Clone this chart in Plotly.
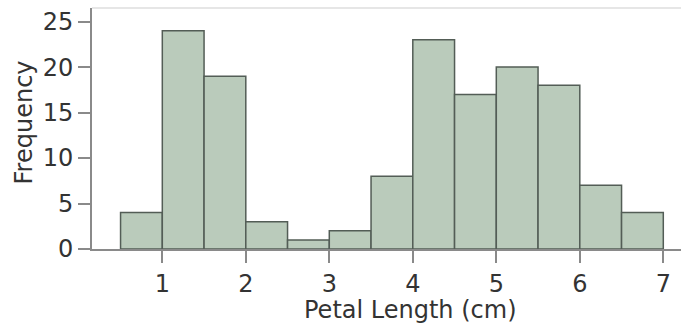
import plotly.graph_objects as go

# Data: histogram of petal length (bins of 0.5 cm)
bin_edges = [0.5, 1.0, 1.5, 2.0, 2.5, 3.0, 3.5, 4.0, 4.5, 5.0, 5.5, 6.0, 6.5, 7.0]
counts = [4, 24, 19, 3, 1, 2, 8, 23, 17, 20, 18, 7, 4]
x_ticks = [1, 2, 3, 4, 5, 6, 7]
y_ticks = [0, 5, 10, 15, 20, 25]
x_title = "Petal Length (cm)"
y_title = "Frequency"

centers = [(a + b) / 2 for a, b in zip(bin_edges[:-1], bin_edges[1:])]
widths = [b - a for a, b in zip(bin_edges[:-1], bin_edges[1:])]

FONT = "DejaVu Sans"
FS = 24
TXT = "#333333"
AX = "#8a8a8a"

fig = go.Figure()
fig.add_trace(go.Bar(
    x=centers, y=counts, width=widths,
    marker=dict(color="#bacbbb", line=dict(color="#535d56", width=1.5)),
    hoverinfo="skip",
))

fig.update_layout(
    width=681, height=324,
    margin=dict(l=92, r=0, t=8, b=75),
    paper_bgcolor="white", plot_bgcolor="white",
    showlegend=False,
    font=dict(family=FONT, size=FS, color=TXT),
    xaxis=dict(
        range=[0.158, 7.212], tickvals=x_ticks, ticktext=[str(v) for v in x_ticks],
        showline=True, linecolor=AX, linewidth=2,
        ticks="outside", ticklen=12, tickwidth=2, tickcolor=AX,
        showgrid=False, zeroline=False,
        tickfont=dict(family=FONT, size=FS, color=TXT),
    ),
    yaxis=dict(
        range=[0, 26.5], tickvals=y_ticks, ticktext=[str(v) for v in y_ticks],
        showline=True, linecolor=AX, linewidth=2,
        ticks="outside", ticklen=12, tickwidth=2, tickcolor=AX,
        showgrid=False, zeroline=False,
        tickfont=dict(family=FONT, size=FS, color=TXT),
    ),
    shapes=[dict(type="line", xref="paper", yref="paper", x0=0, x1=1, y0=1, y1=1,
                 line=dict(color="#e6e6e6", width=2))],
    annotations=[
        dict(text=x_title, xref="paper", yref="paper", x=0.54, y=-0.2531,
             xanchor="center", yanchor="middle", showarrow=False,
             font=dict(family=FONT, size=FS, color=TXT)),
        dict(text=y_title, xref="paper", yref="paper", x=-0.1138, y=0.525,
             xanchor="center", yanchor="middle", showarrow=False, textangle=-90,
             font=dict(family=FONT, size=FS, color=TXT)),
    ],
)

fig.write_html("out.html")
